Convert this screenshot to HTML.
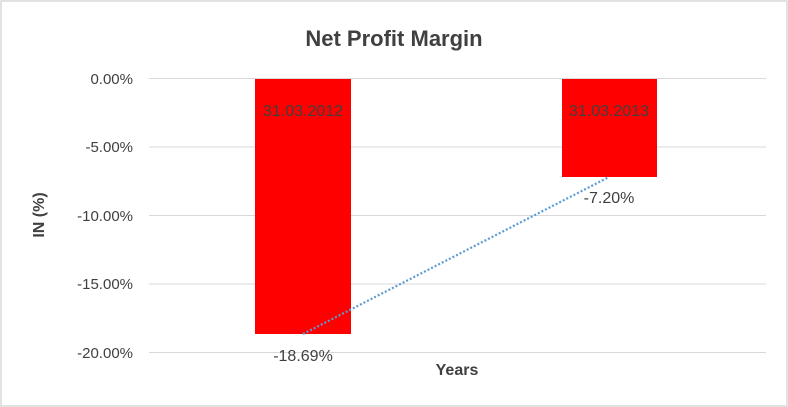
<!DOCTYPE html>
<html><head><style>
body{margin:0;background:#fff;}
svg{display:block;font-family:"Liberation Sans",sans-serif;}
</style></head><body>
<svg width="788" height="407" viewBox="0 0 788 407" xmlns="http://www.w3.org/2000/svg">
<rect x="1" y="1" width="786" height="405" fill="#fff" stroke="#d9d9d9" stroke-width="1.5"/>
<text x="394" y="46" text-anchor="middle" font-size="22" font-weight="bold" fill="#404040">Net Profit Margin</text>
<g stroke="#d9d9d9" stroke-width="1">
<line x1="149" y1="78.5" x2="766" y2="78.5"/>
<line x1="149" y1="147" x2="766" y2="147"/>
<line x1="149" y1="215.5" x2="766" y2="215.5"/>
<line x1="149" y1="284" x2="766" y2="284"/>
<line x1="149" y1="352.5" x2="766" y2="352.5"/>
</g>
<g font-size="15" fill="#404040" text-anchor="end">
<text x="133" y="84">0.00%</text>
<text x="133" y="152">-5.00%</text>
<text x="133" y="221">-10.00%</text>
<text x="133" y="289">-15.00%</text>
<text x="133" y="358">-20.00%</text>
</g>
<text transform="translate(44,215) rotate(-90)" text-anchor="middle" font-size="16" font-weight="bold" fill="#404040">IN (%)</text>
<text x="457" y="375" text-anchor="middle" font-size="16" font-weight="bold" fill="#404040">Years</text>
<rect x="255" y="79" width="96" height="255" fill="#ff0000"/>
<rect x="562" y="79" width="95" height="98" fill="#ff0000"/>
<g font-size="16" fill="#404040" text-anchor="middle">
<text x="303" y="116">31.03.2012</text>
<text x="609" y="116">31.03.2013</text>
<text x="303" y="361">-18.69%</text>
<text x="609" y="203">-7.20%</text>
</g>
<line x1="303" y1="334" x2="609" y2="177" stroke="#5b9bd5" stroke-width="2.2" stroke-dasharray="2,2"/>
</svg>
</body></html>
